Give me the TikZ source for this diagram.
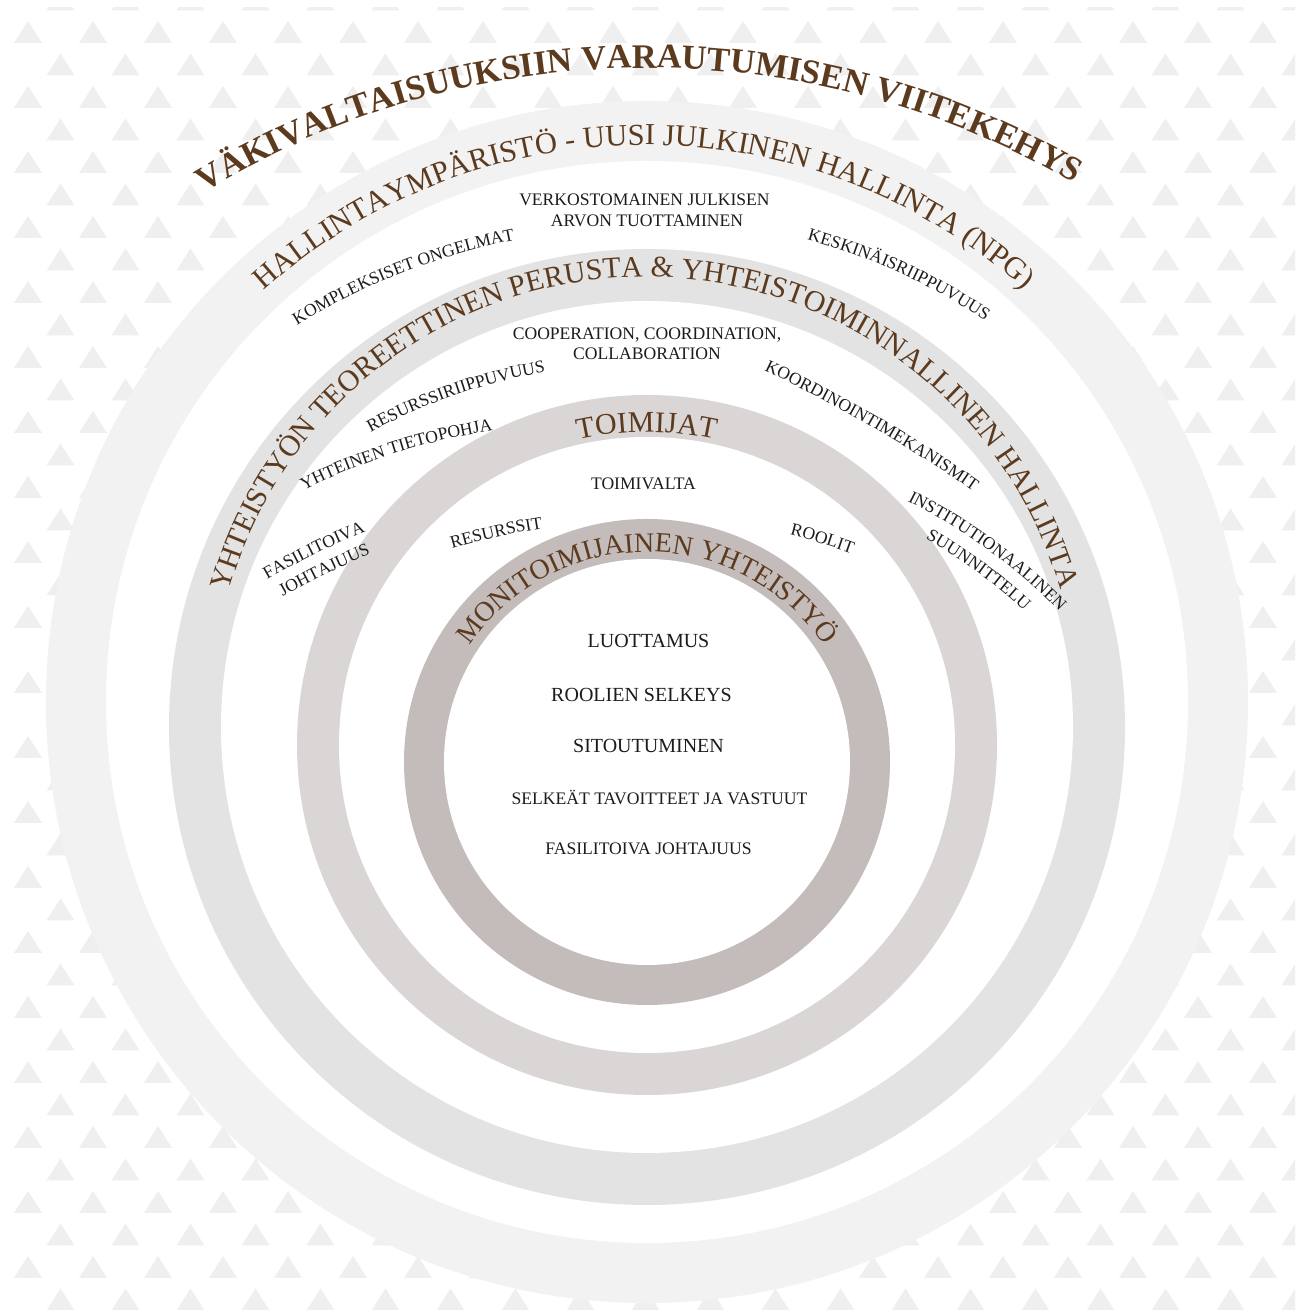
\documentclass[tikz,border=0pt]{standalone}
\usepackage{fontspec}
\setmainfont{Liberation Serif}
\usetikzlibrary{decorations.text}
\definecolor{brn}{RGB}{92,58,30}
\definecolor{ink}{RGB}{28,28,28}
\definecolor{tri}{RGB}{239,239,239}
\definecolor{bandA}{RGB}{242,242,242}
\definecolor{bandB}{RGB}{227,227,227}
\definecolor{bandC}{RGB}{219,214,214}
\definecolor{bandD}{RGB}{196,188,187}
\newcommand\lblsize{\fontsize{17.6}{21}\selectfont}
\newcommand\midsize{\fontsize{20}{24}\selectfont}
% text centred on a circular arc: cx, cy, r, centre angle, half span, text
\newcommand\ringtext[6]{%
  \path[decorate,decoration={text along path,text align=center,text={#6}}]
    ([shift={({#4+#5}:#3)}]#1,#2) arc[start angle={#4+#5},end angle={#4-#5},radius=#3];}
% small curved label centred at image point (x,y), tangent angle, radius
\newcommand\curvlbl[5]{%
  \begin{scope}[shift={(#1,{1310-#2})},rotate=#3]
    \path[decorate,decoration={text along path,text align=center,text={|\lblsize\color{ink}|#5}}]
      (0,-#4) ++(120:#4) arc[start angle=120,end angle=60,radius=#4];
  \end{scope}}
\tikzset{
  ring/.style={circle,inner sep=0pt,outer sep=0pt,draw=none},
  lbl/.style={font=\lblsize,text=ink,inner sep=0pt,anchor=base},
  midlbl/.style={font=\midsize,text=ink,inner sep=0pt,anchor=base}
}
\begin{document}
\begin{tikzpicture}[x=1pt,y=1pt]
\useasboundingbox (0,0) rectangle (1301,1310);
\fill[white] (0,0) rectangle (1301,1310);
% background triangle pattern
\begin{scope}
\clip (5,0) rectangle (1295,1302);
\foreach \j in {-1,...,40}{
  \pgfmathsetmacro\yb{1310-(43+32.5*\j)}
  \pgfmathsetmacro\xo{mod(\j,2)==0 ? 28 : 60.5}
  \foreach \i in {0,...,20}{
    \fill[tri] ({\xo+65*\i-14},\yb) -- ++(28,0) -- ++(-14,22) -- cycle;
  }
}
\end{scope}
% rings
\node[ring,fill=bandA,minimum size=1202pt] (outerRing) at (647,608) {};
\node[ring,fill=white,minimum size=1082pt] (outerHole) at (647,608) {};
\node[ring,fill=bandB,minimum size=956pt] (theoryRing) at (647,583) {};
\node[ring,fill=white,minimum size=852pt] (theoryHole) at (647,583) {};
\node[ring,fill=bandC,minimum size=700pt] (actorRing) at (647,565) {};
\node[ring,fill=white,minimum size=616pt] (actorHole) at (647,565) {};
\node[ring,fill=bandD,minimum size=486pt] (coreRing) at (647,548) {};
\node[ring,fill=white,minimum size=406pt] (coreHole) at (647,548) {};
% curved headings
\ringtext{647}{394}{848}{90.6}{45}{|\bfseries\fontsize{34.5}{40}\selectfont\color{brn}|VÄKIVALTAISUUKSIIN VARAUTUMISEN VIITEKEHYS}
\ringtext{645}{595}{570}{90.1}{70}{|\fontsize{30.5}{34}\selectfont\color{brn}|HALLINTAYMPÄRISTÖ - UUSI JULKINEN HALLINTA (NPG)}
\ringtext{645}{601}{432}{90.15}{85}{|\fontsize{29.8}{34}\selectfont\color{brn}|YHTEISTYÖN TEOREETTINEN PERUSTA {\&} YHTEISTOIMINNALLINEN HALLINTA}
\ringtext{647}{565}{313}{90}{40}{|\fontsize{30}{34}\selectfont\color{brn}|TOIMIJAT}
\ringtext{647}{543}{215}{90}{80}{|\fontsize{28}{32}\selectfont\color{brn}|MONITOIMIJAINEN YHTEISTYÖ}
% horizontal labels
\node[lbl] (verk1) at (644.5,1104) {VERKOSTOMAINEN JULKISEN};
\node[lbl] (verk2) at (647,1083) {ARVON TUOTTAMINEN};
\node[lbl] (coop1) at (647,970) {COOPERATION, COORDINATION,};
\node[lbl] (coop2) at (647,950) {COLLABORATION};
\node[lbl] (valta) at (643.5,820) {TOIMIVALTA};
\node[midlbl] (luott) at (648.5,662) {LUOTTAMUS};
\node[midlbl] (roolsel) at (641.5,608) {ROOLIEN SELKEYS};
\node[midlbl] (sitout) at (648.5,557) {SITOUTUMINEN};
\node[lbl] (tavoit) at (659.5,505) {SELKEÄT TAVOITTEET JA VASTUUT};
\node[lbl] (fasil) at (648.5,455) {FASILITOIVA JOHTAJUUS};
% curved small labels
\curvlbl{402}{273}{21.4}{664}{KOMPLEKSISET ONGELMAT}
\curvlbl{899.5}{273}{-24.6}{597}{KESKINÄISRIIPPUVUUS}
\curvlbl{455.5}{395}{19}{560}{RESURSSIRIIPPUVUUS}
\curvlbl{396}{453}{17.5}{650}{YHTEINEN TIETOPOHJA}
\curvlbl{871}{426.5}{-30}{1500}{KOORDINOINTIMEKANISMIT}
\curvlbl{988}{550}{-36}{575}{INSTITUTIONAALINEN}
\curvlbl{977}{572}{-36}{555}{SUUNNITTELU}
\curvlbl{315.5}{554}{26}{764}{FASILITOIVA}
\curvlbl{326}{574}{26}{740}{JOHTAJUUS}
\curvlbl{497}{537}{12.5}{699}{RESURSSIT}
\curvlbl{821}{543.5}{-17}{596}{ROOLIT}
\end{tikzpicture}
\end{document}
